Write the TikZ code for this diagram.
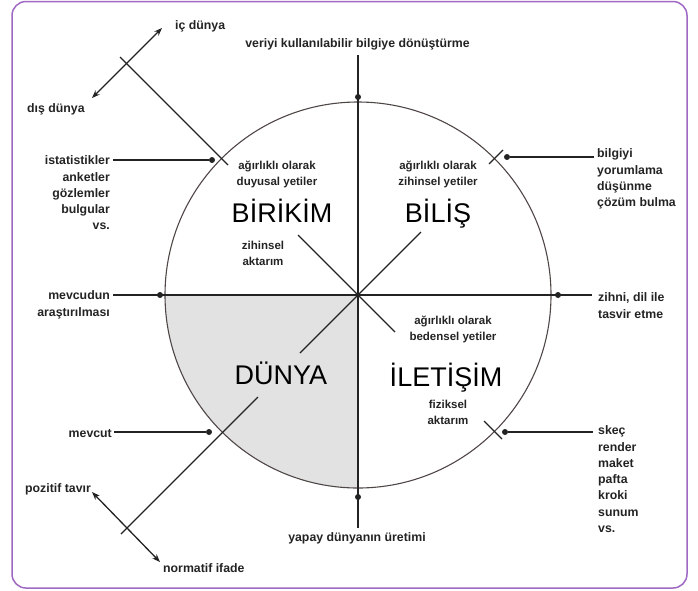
\documentclass[tikz,border=0pt]{standalone}
\usepackage{fontspec}
\setmainfont{Liberation Sans}
\usetikzlibrary{arrows.meta}
\definecolor{framec}{RGB}{160,105,195}
\definecolor{linec}{RGB}{35,35,35}
\definecolor{circc}{RGB}{80,70,70}
\definecolor{quadc}{RGB}{226,226,226}
\begin{document}
\begin{tikzpicture}[x=1pt,y=-1pt,
  lbl/.style={font=\fontsize{12.3}{16.3}\selectfont\bfseries, inner sep=0pt, text=linec},
  inlbl/.style={font=\fontsize{11.5}{15.5}\selectfont\bfseries, inner sep=0pt, text=linec, align=center, execute at begin node=\strut},
  big/.style={font=\fontsize{27}{30}\selectfont, inner sep=0pt, text=black},
  multi/.style={lbl, execute at begin node=\strut},
  ln/.style={draw=linec, line width=1.3pt},
  dotc/.style={fill=linec, circle, inner sep=0pt, minimum size=6pt},
  dbl/.style={ln, {Stealth[length=8pt,width=6pt]}-{Stealth[length=8pt,width=6pt]}},
]
\useasboundingbox (0,0) rectangle (698,590);
\draw[framec, line width=1.5pt, rounded corners=14pt] (12,1.5) rectangle (687,588);

% circle and grey quadrant
\coordinate (C) at (358,295);
\begin{scope}
  \clip (160,295) rectangle (358,495);
  \fill[quadc] (C) circle[radius=193];
\end{scope}
\draw[circc, line width=1.1pt] (C) circle[radius=193];

% axes
\coordinate (vtop) at (358,55);
\coordinate (vbot) at (358,528);
\coordinate (hl) at (113,295);
\coordinate (hr) at (592,295);
\draw[ln] (vtop) -- (vbot);
\draw[ln] (hl) -- (hr);
\node[dotc] (dtop) at (358,97) {};
\node[dotc] (dbot) at (358,497) {};
\node[dotc] (dleft) at (160,295) {};
\node[dotc] (dright) at (558,295) {};

% diagonals
\coordinate (nwA) at (120,57);
\coordinate (nwB) at (228,165);
\coordinate (nwC) at (298,235);
\coordinate (seA) at (395,332);
\coordinate (neA) at (421,232);
\coordinate (neT1) at (489,164);
\coordinate (neT2) at (503,150);
\coordinate (seT1) at (484,421);
\coordinate (seT2) at (502,439);
\coordinate (swA) at (300,353);
\coordinate (swB) at (258,397);
\coordinate (swC) at (121,534);
\draw[ln] (nwA) -- (nwB);
\draw[ln] (nwC) -- (seA);
\draw[ln] (C) -- (neA);
\draw[ln] (neT1) -- (neT2);
\draw[ln] (seT1) -- (seT2);
\draw[ln] (C) -- (swA);
\draw[ln] (swB) -- (swC);

% double arrows
\coordinate (ar1a) at (92,98);
\coordinate (ar1b) at (162,28);
\coordinate (ar2a) at (92,492);
\coordinate (ar2b) at (160,562);
\draw[dbl] (ar1a) -- (ar1b);
\draw[dbl] (ar2a) -- (ar2b);

% side connectors
\coordinate (istL) at (113,160);
\node[dotc] (istD) at (212,160) {};
\draw[ln] (istL) -- (istD);
\coordinate (mevL) at (114,432);
\node[dotc] (mevD) at (209,432) {};
\draw[ln] (mevL) -- (mevD);
\node[dotc] (bilD) at (507,157) {};
\coordinate (bilR) at (594,157);
\draw[ln] (bilD) -- (bilR);
\node[dotc] (skD) at (505,432) {};
\coordinate (skR) at (593,432);
\draw[ln] (skD) -- (skR);

% outer labels
\node[lbl, anchor=base] (tTop) at (357.5,47) {veriyi kullanılabilir bilgiye dönüştürme};
\node[lbl, anchor=base west] (tIc) at (175,29) {iç dünya};
\node[lbl, anchor=base west] (tDis) at (27,112) {dış dünya};
\node[multi, align=right, anchor=north east] (tIst) at (110,155.6) {istatistikler\\anketler\\gözlemler\\bulgular\\vs.};
\node[multi, align=right, anchor=north east] (tMevA) at (110,290.6) {mevcudun\\araştırılması};
\node[lbl, anchor=base east] (tMev) at (112,437) {mevcut};
\node[lbl, anchor=base west] (tPoz) at (25,492) {pozitif tavır};
\node[lbl, anchor=base west] (tNor) at (163,572) {normatif ifade};
\node[lbl, anchor=base] (tYap) at (357,541) {yapay dünyanın üretimi};
\node[multi, align=left, anchor=north west] (tBil) at (597,148.6) {bilgiyi\\yorumlama\\düşünme\\çözüm bulma};
\node[multi, align=left, anchor=north west] (tZih) at (598,292.6) {zihni, dil ile\\tasvir etme};
\node[multi, align=left, anchor=north west] (tSk) at (598,425.6) {skeç\\render\\maket\\pafta\\kroki\\sunum\\vs.};

% inner labels
\node[inlbl, anchor=north] (iDuy) at (277,161.2) {ağırlıklı olarak\\duyusal yetiler};
\node[inlbl, anchor=north] (iZihY) at (438,161.2) {ağırlıklı olarak\\zihinsel yetiler};
\node[inlbl, anchor=north] (iZihA) at (263,241.2) {zihinsel\\aktarım};
\node[inlbl, anchor=north] (iBed) at (453,316.2) {ağırlıklı olarak\\bedensel yetiler};
\node[inlbl, anchor=north] (iFiz) at (448,400.2) {fiziksel\\aktarım};

% big labels
\node[big, anchor=base] (bBir) at (282,222) {BİRİKİM};
\node[big, anchor=base] (bBil) at (438,222) {BİLİŞ};
\node[big, anchor=base] (bDun) at (281,384) {DÜNYA};
\node[big, anchor=base] (bIle) at (446,386) {İLETİŞİM};
\end{tikzpicture}
\end{document}
